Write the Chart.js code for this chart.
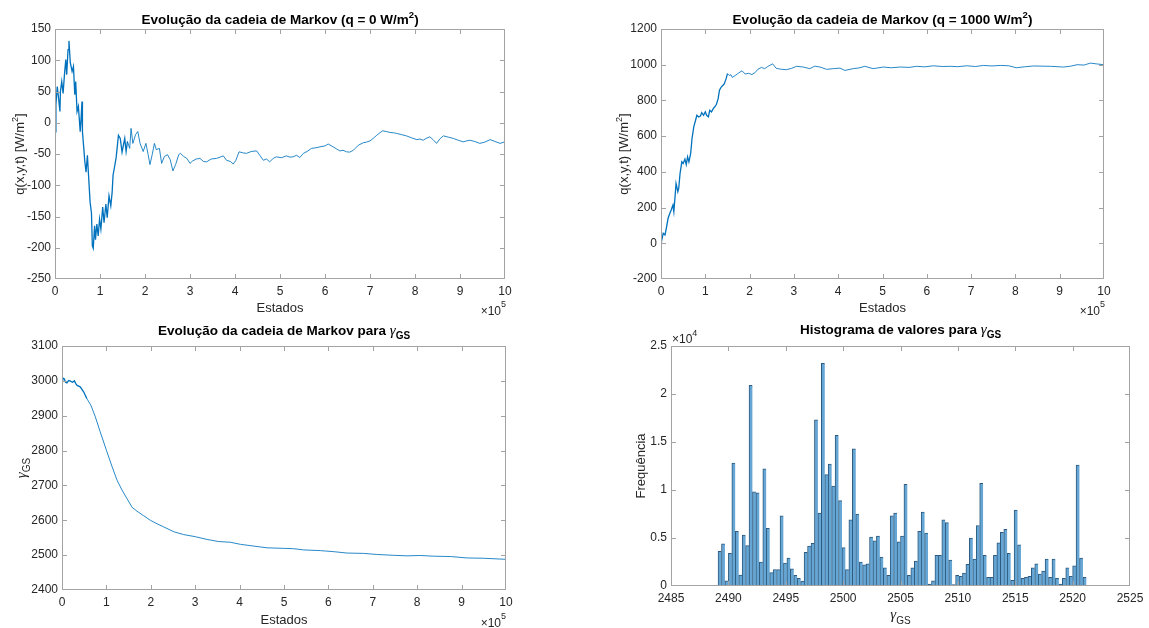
<!DOCTYPE html>
<html><head><meta charset="utf-8">
<script src="https://cdn.jsdelivr.net/npm/chart.js@4"></script>
<style>
html,body{margin:0;padding:0;background:#fff;}
#wrap{position:relative;width:1149px;height:628px;overflow:hidden;background:#fff;}
#wrap canvas{position:absolute;left:0;top:0;}
</style></head><body><div id="wrap">
<canvas id="c1" width="1149" height="628"></canvas>
<canvas id="c2" width="1149" height="628"></canvas>
<canvas id="c3" width="1149" height="628"></canvas>
<canvas id="c4" width="1149" height="628"></canvas>
</div>
<script>
// ---------- DATA (states in units of 10^5) ----------
const tlStates = [0, 0.02, 0.05, 0.08, 0.11, 0.12, 0.15, 0.18, 0.21, 0.24, 0.26, 0.29, 0.31, 0.34, 0.38, 0.41, 0.44, 0.46, 0.49, 0.52, 0.56, 0.58, 0.6, 0.61, 0.64, 0.66, 0.69, 0.72, 0.75, 0.78, 0.81, 0.83, 0.85, 0.88, 0.9, 0.93, 0.96, 0.99, 1.02, 1.06, 1.09, 1.13, 1.16, 1.2, 1.24, 1.27, 1.29, 1.33, 1.36, 1.38, 1.41, 1.45, 1.49, 1.52, 1.55, 1.58, 1.61, 1.66, 1.69, 1.73, 1.79, 1.84, 1.89, 1.96, 2.02, 2.07, 2.11, 2.16, 2.21, 2.25, 2.32, 2.37, 2.43, 2.5, 2.56, 2.62, 2.68, 2.75, 2.79, 2.86, 2.93, 3.0, 3.06, 3.14, 3.22, 3.3, 3.37, 3.47, 3.59, 3.67, 3.74, 3.81, 3.9, 3.96, 4.02, 4.09, 4.17, 4.25, 4.36, 4.48, 4.55, 4.63, 4.7, 4.77, 4.85, 4.92, 5.03, 5.14, 5.22, 5.29, 5.37, 5.44, 5.52, 5.6, 5.7, 5.8, 5.89, 6.0, 6.07, 6.18, 6.26, 6.33, 6.4, 6.48, 6.55, 6.63, 6.74, 6.85, 6.92, 7.0, 7.07, 7.15, 7.22, 7.28, 7.36, 7.44, 7.52, 7.59, 7.7, 7.81, 7.92, 8.04, 8.11, 8.18, 8.25, 8.33, 8.4, 8.48, 8.55, 8.63, 8.74, 8.85, 8.96, 9.07, 9.15, 9.22, 9.33, 9.44, 9.55, 9.67, 9.78, 9.89, 10.0];
const tlQ = [-14.5, 28.5, 58, 39, 18, 50, 66, 47, 77, 101, 77, 117, 131, 96, 82, 90, 45, 66, 18, 26, -14.5, 7, 34, -14.5, -41, -60, -79, -52, -90, -127, -144, -197, -201, -165, -187, -162, -181, -154, -170, -135, -160, -130, -152, -117, -133, -111, -84, -68, -55, -41, -20, -25, -47, -36, -25, -46, -30, -41, -9, -33, -19, -14, -33, -46, -33, -51, -67, -51, -33, -43, -41, -65, -54, -51, -59, -77, -67, -51, -49, -54, -57, -65, -61, -58, -57, -62, -62.5, -58, -57, -55, -53, -60, -62, -66, -60, -46.5, -48, -49, -46, -45, -52, -60, -58, -62.5, -57, -54.5, -56, -53, -55, -54.5, -52, -55.6, -49, -46, -41, -40, -38.5, -37, -34, -38.5, -42, -45, -44, -46.5, -47, -44, -36, -32, -31, -29, -25, -20, -16, -13, -14, -15.5, -16, -17, -19, -21, -24, -27, -26, -28, -25, -22.5, -27, -33, -26, -21, -23, -25, -28, -30.5, -29, -28, -30, -33, -31, -27, -30, -33, -30.5];

const trStates = [0, 0.01, 0.05, 0.09, 0.12, 0.16, 0.2, 0.23, 0.27, 0.29, 0.32, 0.34, 0.38, 0.4, 0.43, 0.47, 0.5, 0.54, 0.57, 0.6, 0.63, 0.67, 0.7, 0.74, 0.78, 0.81, 0.85, 0.89, 0.92, 0.96, 1.0, 1.03, 1.07, 1.1, 1.14, 1.18, 1.21, 1.25, 1.29, 1.32, 1.36, 1.4, 1.43, 1.47, 1.5, 1.54, 1.58, 1.61, 1.69, 1.76, 1.83, 1.9, 1.98, 2.05, 2.12, 2.19, 2.27, 2.34, 2.41, 2.52, 2.6, 2.7, 2.83, 2.95, 3.06, 3.21, 3.36, 3.47, 3.59, 3.74, 3.89, 4.04, 4.15, 4.34, 4.47, 4.6, 4.79, 5.02, 5.2, 5.4, 5.6, 5.77, 5.95, 6.15, 6.35, 6.53, 6.7, 6.9, 7.1, 7.28, 7.47, 7.66, 7.85, 8.02, 8.2, 8.41, 8.6, 8.79, 9.09, 9.25, 9.39, 9.55, 9.69, 9.85, 10.0];
const trQ = [2, 9, 56, 47, 84, 140, 168, 186, 214, 177, 270, 335, 289, 307, 391, 456, 447, 471, 441, 484, 456, 503, 587, 652, 689, 717, 708, 713, 732, 717, 736, 717, 708, 745, 736, 754, 763, 777, 810, 857, 875, 885, 894, 922, 950, 940, 944, 929, 942, 955, 966, 948, 952, 945, 955, 975, 985, 978, 990, 1005, 980, 975, 972, 980, 991, 987, 978, 992, 987, 974, 978, 981, 968, 978, 982, 991, 978, 987, 983, 987, 985, 991, 988, 994, 990, 991, 989, 994, 990, 996, 993, 996, 994, 983, 988, 993, 992, 991, 987, 992, 1000, 998, 1009, 1004, 1000];

const blStates = [0, 0.02, 0.05, 0.08, 0.11, 0.15, 0.19, 0.24, 0.28, 0.31, 0.34, 0.41, 0.49, 0.56, 0.65, 0.75, 0.86, 1.0, 1.13, 1.24, 1.35, 1.46, 1.58, 1.69, 1.84, 1.99, 2.14, 2.29, 2.52, 2.74, 3.0, 3.27, 3.53, 3.79, 4.02, 4.32, 4.62, 4.99, 5.22, 5.44, 5.82, 6.12, 6.42, 6.79, 7.09, 7.47, 7.77, 8.07, 8.37, 8.75, 9.12, 9.5, 10.0];
const blGamma = [3003, 3008, 3006, 2996, 2994, 3001, 2999, 2996, 3000, 2992, 2987, 2983, 2968, 2949, 2930, 2897, 2854, 2801, 2753, 2715, 2687, 2663, 2637, 2626, 2613, 2600, 2590, 2581, 2567, 2559, 2553, 2545, 2539, 2537, 2531, 2526, 2521, 2519.5, 2518.5, 2515, 2513, 2510, 2506, 2505, 2502, 2499.5, 2498, 2499, 2497, 2496, 2492, 2491, 2488];

const HIST_BIN_START = 2489.1;
const HIST_BIN_WIDTH = 0.3;
const histCounts = [3600, 4400, 550, 3400, 12800, 5700, 1150, 5300, 4200, 20900,
  9800, 9700, 2500, 12200, 6000, 1400, 1700, 1700, 7300, 2400,
  2900, 1800, 1100, 800, 500, 3500, 4150, 4450, 17300, 7600,
  23200, 11600, 12700, 10400, 15700, 8900, 4000, 1700, 6900, 14300,
  7500, 2500, 2200, 2300, 5100, 4700, 5200, 3000, 1900, 1100,
  7300, 7600, 4600, 5200, 10600, 1100, 1900, 2600, 5700, 7700,
  5500, 200, 550, 3200, 3200, 6900, 6600, 2700, 150, 1100,
  1000, 1350, 2250, 5000, 2800, 6300, 10700, 3200, 900, 900,
  3200, 4500, 5600, 5900, 3400, 600, 7900, 4300, 800, 900,
  1000, 1900, 2300, 1250, 1550, 2800, 900, 2800, 800, 200,
  800, 1900, 1000, 2100, 12600, 2900, 900];

// ---------- STYLE ----------
const W = 1149, H = 628;
const SANS = '"Liberation Sans", Arial, Helvetica, sans-serif';
const SERIF = '"Liberation Serif", "DejaVu Serif", serif';
const F_TITLE = 'bold 13.5px ' + SANS;
const F_TITLE_SUP = 'bold 9.5px ' + SANS;
const F_LABEL = '13px ' + SANS;
const F_SUP = '9px ' + SANS;
const F_GAMMA = 'italic 15px ' + SERIF;
const F_SUB = '10px ' + SANS;
const F_SUB_B = 'bold 10px ' + SANS;
const TEXT = '#262626';
const BOX = '#a3a3a3';
const LINE = '#0072BD';
const Y_AXIS_W = 50, X_AXIS_H = 24;

function drawRich(ctx, it) {
  ctx.save();
  ctx.translate(it.x, it.y);
  if (it.rot) ctx.rotate(it.rot);
  let w = 0;
  it.segs.forEach(s => { ctx.font = s.f; s.w = ctx.measureText(s.t).width; w += s.w; });
  let x0 = it.align === 'center' ? -w / 2 : (it.align === 'right' ? -w : 0);
  ctx.textAlign = 'left'; ctx.textBaseline = 'alphabetic';
  it.segs.forEach(s => {
    ctx.font = s.f; ctx.fillStyle = s.c || it.c || TEXT;
    ctx.fillText(s.t, x0, s.dy || 0); x0 += s.w;
  });
  ctx.restore();
}

const framePlugin = {
  id: 'frame',
  afterDraw(chart, args, opts) {
    const ctx = chart.ctx, a = chart.chartArea;
    const tl = opts.tickLen || 4.5;
    ctx.save();
    ctx.strokeStyle = BOX; ctx.lineWidth = 1;
    const L = Math.round(a.left) + 0.5, R = Math.round(a.right) - 0.5;
    const T = Math.round(a.top) + 0.5, B = Math.round(a.bottom) - 0.5;
    ctx.beginPath();
    ctx.rect(L, T, R - L, B - T);
    const xs = chart.scales.x, ys = chart.scales.y;
    xs.ticks.forEach(t => {
      const p = Math.min(R, Math.max(L, Math.round(xs.getPixelForValue(t.value)) + 0.5));
      ctx.moveTo(p, B); ctx.lineTo(p, B - tl);
      ctx.moveTo(p, T); ctx.lineTo(p, T + tl);
    });
    ys.ticks.forEach(t => {
      const p = Math.min(B, Math.max(T, Math.round(ys.getPixelForValue(t.value)) + 0.5));
      ctx.moveTo(L, p); ctx.lineTo(L + tl, p);
      ctx.moveTo(R, p); ctx.lineTo(R - tl, p);
    });
    ctx.stroke();
    ctx.restore();
    (opts.texts || []).forEach(it => drawRich(ctx, it));
  }
};

function pad(box) {
  return { left: box.l - Y_AXIS_W, right: W - box.r, top: box.t, bottom: H - box.b - X_AXIS_H };
}

function scalesFor(xMin, xMax, xStep, yMin, yMax, yStep, yFmt) {
  return {
    x: {
      type: 'linear', min: xMin, max: xMax, offset: false,
      grid: { display: false, offset: false, drawTicks: false }, border: { display: false },
      ticks: { stepSize: xStep, padding: 5, color: TEXT, font: { family: SANS, size: 12 }, maxRotation: 0, autoSkip: false,
        callback: v => String(v) },
      afterFit(s) { s.height = X_AXIS_H; }
    },
    y: {
      type: 'linear', min: yMin, max: yMax,
      grid: { display: false, drawTicks: false }, border: { display: false },
      ticks: { stepSize: yStep, padding: 4, color: TEXT, font: { family: SANS, size: 12 }, autoSkip: false,
        callback: yFmt || (v => String(v)) },
      afterFit(s) { s.width = Y_AXIS_W; }
    }
  };
}

const common = {
  responsive: false, animation: false, events: [],
  plugins: { legend: { display: false }, tooltip: { enabled: false } }
};

function lineChart(id, box, xsArr, ysArr, yMin, yMax, yStep, texts, thickUntil) {
  const pts = xsArr.map((x, i) => ({ x: x, y: ysArr[i] }));
  return new Chart(document.getElementById(id), {
    type: 'line',
    data: { datasets: [{ data: pts, borderColor: LINE, borderWidth: 0.9, pointRadius: 0, tension: 0,
      segment: { borderWidth: c => (c.p0.parsed.x < thickUntil ? 1.3 : 0.85) } }] },
    options: Object.assign({}, common, {
      layout: { padding: pad(box) },
      scales: scalesFor(0, 10, 1, yMin, yMax, yStep),
      plugins: Object.assign({}, common.plugins, { frame: { texts: texts } })
    }),
    plugins: [framePlugin]
  });
}

// ---------- TOP LEFT ----------
const bTL = { l: 55, r: 505, t: 29, b: 279 };
lineChart('c1', bTL, tlStates, tlQ, -250, 150, 50, [
  { x: 280, y: 23.5, align: 'center', c: '#000', segs: [
    { t: 'Evolução da cadeia de Markov (q = 0 W/m', f: F_TITLE },
    { t: '2', f: F_TITLE_SUP, dy: -6 }, { t: ')', f: F_TITLE }] },
  { x: 280, y: 311.5, align: 'center', segs: [{ t: 'Estados', f: F_LABEL }] },
  { x: 24, y: 154, align: 'center', rot: -Math.PI / 2, segs: [
    { t: 'q(x,y,t) [W/m', f: F_LABEL }, { t: '2', f: F_SUP, dy: -6 }, { t: ']', f: F_LABEL }] },
  { x: 506, y: 315, align: 'right', segs: [{ t: '×10', f: '12px ' + SANS }, { t: '5', f: F_SUP, dy: -8 }] }
], 1.6);

// ---------- TOP RIGHT ----------
const bTR = { l: 661, r: 1104, t: 29, b: 279 };
lineChart('c2', bTR, trStates, trQ, -200, 1200, 200, [
  { x: 882.5, y: 23.5, align: 'center', c: '#000', segs: [
    { t: 'Evolução da cadeia de Markov (q = 1000 W/m', f: F_TITLE },
    { t: '2', f: F_TITLE_SUP, dy: -6 }, { t: ')', f: F_TITLE }] },
  { x: 882.5, y: 311.5, align: 'center', segs: [{ t: 'Estados', f: F_LABEL }] },
  { x: 628, y: 154, align: 'center', rot: -Math.PI / 2, segs: [
    { t: 'q(x,y,t) [W/m', f: F_LABEL }, { t: '2', f: F_SUP, dy: -6 }, { t: ']', f: F_LABEL }] },
  { x: 1105, y: 315, align: 'right', segs: [{ t: '×10', f: '12px ' + SANS }, { t: '5', f: F_SUP, dy: -8 }] }
], 1.5);

// ---------- BOTTOM LEFT ----------
const bBL = { l: 62, r: 506, t: 346, b: 590 };
lineChart('c3', bBL, blStates, blGamma, 2400, 3100, 100, [
  { x: 284, y: 334.5, align: 'center', c: '#000', segs: [
    { t: 'Evolução da cadeia de Markov para ', f: F_TITLE },
    { t: 'γ', f: F_GAMMA }, { t: 'GS', f: F_SUB_B, dy: 4 }] },
  { x: 284, y: 624, align: 'center', segs: [{ t: 'Estados', f: F_LABEL }] },
  { x: 26, y: 468, align: 'center', rot: -Math.PI / 2, segs: [
    { t: 'γ', f: F_GAMMA }, { t: 'GS', f: F_SUB, dy: 4 }] },
  { x: 506, y: 627, align: 'right', segs: [{ t: '×10', f: '12px ' + SANS }, { t: '5', f: F_SUP, dy: -8 }] }
], 0.5);

// ---------- BOTTOM RIGHT (histogram) ----------
const bBR = { l: 671, r: 1130, t: 346, b: 586 };
const binCenters = histCounts.map((_, i) => HIST_BIN_START + (i + 0.5) * HIST_BIN_WIDTH);
new Chart(document.getElementById('c4'), {
  type: 'bar',
  data: { datasets: [{
    data: histCounts.map((c, i) => ({ x: binCenters[i], y: c })),
    backgroundColor: 'rgb(102,166,212)',
    borderColor: '#2d5a7e',
    borderWidth: { left: 1, top: 1, right: 0, bottom: 0 },
    borderSkipped: false,
    barPercentage: 1, categoryPercentage: 1
  }] },
  options: Object.assign({}, common, {
    layout: { padding: pad(bBR) },
    scales: scalesFor(2485, 2525, 5, 0, 25000, 5000, v => String(v / 10000)),
    plugins: Object.assign({}, common.plugins, { frame: { tickLen: 4.5, texts: [
      { x: 900.5, y: 334, align: 'center', c: '#000', segs: [
        { t: 'Histograma de valores para ', f: F_TITLE },
        { t: 'γ', f: F_GAMMA }, { t: 'GS', f: F_SUB_B, dy: 4 }] },
      { x: 900.5, y: 618.5, align: 'center', segs: [
        { t: 'γ', f: F_GAMMA }, { t: 'GS', f: F_SUB, dy: 5 }] },
      { x: 645, y: 466, align: 'center', rot: -Math.PI / 2, segs: [{ t: 'Frequência', f: F_LABEL }] },
      { x: 672, y: 343, align: 'left', segs: [{ t: '×10', f: '12px ' + SANS }, { t: '4', f: F_SUP, dy: -7 }] }
    ] } })
  }),
  plugins: [framePlugin]
});
</script>
</body></html>
